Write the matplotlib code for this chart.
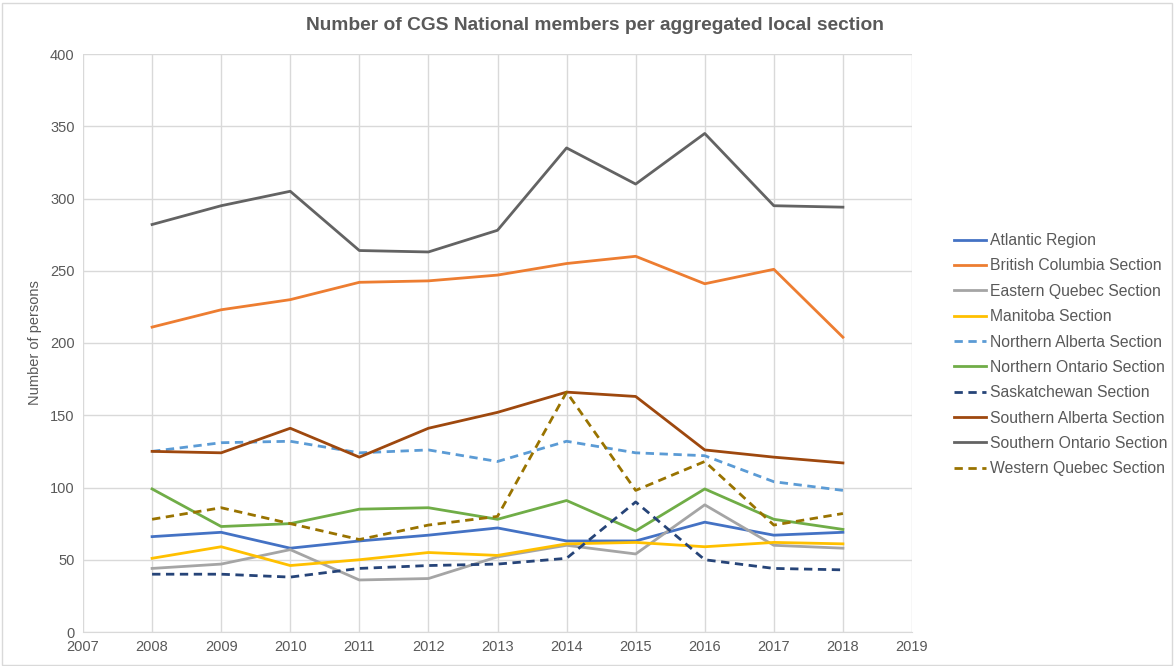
import matplotlib.pyplot as plt
from matplotlib.patches import Rectangle

plt.rcParams['font.family'] = ['Liberation Sans', 'DejaVu Sans']

# datos
years = [2008, 2009, 2010, 2011, 2012, 2013, 2014, 2015, 2016, 2017, 2018]

atlantic = [66, 69, 58, 63, 67, 72, 63, 63, 76, 67, 69]
british_columbia = [211, 223, 230, 242, 243, 247, 255, 260, 241, 251, 204]
eastern_quebec = [44, 47, 57, 36, 37, 52, 60, 54, 88, 60, 58]
manitoba = [51, 59, 46, 50, 55, 53, 61, 62, 59, 62, 61]
northern_alberta = [125, 131, 132, 124, 126, 118, 132, 124, 122, 104, 98]
northern_ontario = [99, 73, 75, 85, 86, 78, 91, 70, 99, 78, 71]
saskatchewan = [40, 40, 38, 44, 46, 47, 51, 90, 50, 44, 43]
southern_alberta = [125, 124, 141, 121, 141, 152, 166, 163, 126, 121, 117]
southern_ontario = [282, 295, 305, 264, 263, 278, 335, 310, 345, 295, 294]
western_quebec = [78, 86, 75, 64, 74, 80, 166, 98, 118, 74, 82]

series = [
    ('Atlantic Region', atlantic, '#4472C4', '-'),
    ('British Columbia Section', british_columbia, '#ED7D31', '-'),
    ('Eastern Quebec Section', eastern_quebec, '#A5A5A5', '-'),
    ('Manitoba Section', manitoba, '#FFC000', '-'),
    ('Northern Alberta Section', northern_alberta, '#5B9BD5', '--'),
    ('Northern Ontario Section', northern_ontario, '#70AD47', '-'),
    ('Saskatchewan Section', saskatchewan, '#264478', '--'),
    ('Southern Alberta Section', southern_alberta, '#9E480E', '-'),
    ('Southern Ontario Section', southern_ontario, '#636363', '-'),
    ('Western Quebec Section', western_quebec, '#997300', '--'),
]

fig = plt.figure(figsize=(11.74, 6.66), dpi=100)
ax = fig.add_axes([83 / 1174, 1 - 632 / 666, (912 - 83) / 1174, (632 - 54) / 666])

for label, values, color, ls in series:
    line, = ax.plot(years, values, color=color, linestyle=ls, linewidth=2, label=label)
    if ls == '--':
        line.set_dashes((3, 2))

ax.set_xlim(2007, 2019)
ax.set_ylim(0, 400)
ax.set_xticks(range(2007, 2020))
ax.set_yticks(range(0, 401, 50))
ax.grid(True, color='#D9D9D9', linewidth=1)
ax.set_axisbelow(True)
for s in ['top', 'right', 'left']:
    ax.spines[s].set_visible(False)
ax.spines['bottom'].set_color('#D9D9D9')
ax.tick_params(length=0, labelsize=10.5, colors='#595959', pad=6)
ax.set_ylabel('Number of persons', fontsize=10.5, color='#595959', labelpad=6)

fig.text(595 / 1174, 1 - 25 / 666, 'Number of CGS National members per aggregated local section',
         ha='center', va='center', fontsize=13.8, fontweight='bold', color='#595959')

fig.legend(loc='upper left', bbox_to_anchor=(940 / 1174, 1 - 219 / 666), frameon=False,
           fontsize=11.3, labelcolor='#595959', handlelength=2.0, handletextpad=0.3,
           labelspacing=0.66)

# borde del grafico
fig.patches.append(Rectangle((0.002, 0.002), 0.996, 0.994, transform=fig.transFigure,
                             fill=False, edgecolor='#D9D9D9', linewidth=1))

fig.savefig('out.png', dpi=100)
